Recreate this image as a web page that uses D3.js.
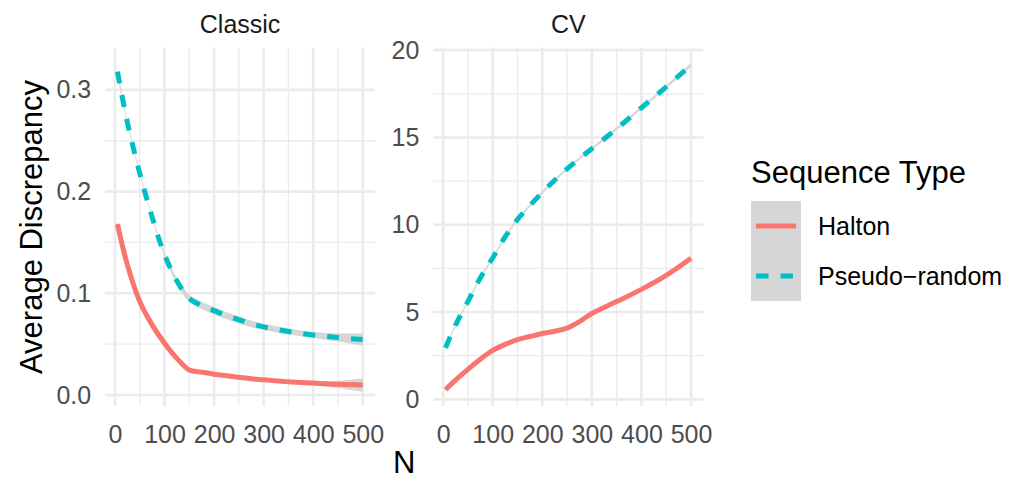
<!DOCTYPE html>
<html>
<head>
<meta charset="utf-8">
<script src="https://cdn.jsdelivr.net/npm/d3@7"></script>
<style>
  html, body { margin: 0; padding: 0; background: #fff; }
  svg { display: block; font-family: "Liberation Sans", Arial, Helvetica, sans-serif; }
</style>
</head>
<body>
<svg id="chart" width="1022" height="480"></svg>
<script>
// ---- data ----
const panels = ["Classic", "CV"];
const seriesNames = ["Halton", "Pseudo\u2212random"];
const N = [5, 25, 50, 75, 100, 125, 150, 175, 200, 225, 250, 275, 300, 350, 400, 450, 500];

const classicHalton   = [0.168, 0.128, 0.092, 0.069, 0.051, 0.036, 0.0245, 0.0225, 0.0205, 0.019, 0.0175, 0.016, 0.015, 0.013, 0.0117, 0.0105, 0.0098];
const classicHaltonSE = [0.003, 0.002, 0.0015, 0.0012, 0.0012, 0.0012, 0.0012, 0.0012, 0.0012, 0.0012, 0.0012, 0.0012, 0.0012, 0.0015, 0.002, 0.0035, 0.0066];
const classicPseudo   = [0.318, 0.268, 0.218, 0.175, 0.138, 0.112, 0.095, 0.088, 0.083, 0.078, 0.074, 0.070, 0.067, 0.0625, 0.059, 0.0565, 0.0545];
const classicPseudoSE = [0.004, 0.002, 0.0015, 0.0015, 0.002, 0.003, 0.0035, 0.0035, 0.0035, 0.0035, 0.0035, 0.0033, 0.003, 0.003, 0.003, 0.004, 0.0063];

const cvHalton   = [0.55, 1.1, 1.72, 2.3, 2.8, 3.15, 3.42, 3.6, 3.77, 3.9, 4.08, 4.45, 4.92, 5.6, 6.3, 7.1, 8.08];
const cvHaltonSE = [0.08, 0.05, 0.05, 0.05, 0.05, 0.05, 0.05, 0.05, 0.05, 0.05, 0.05, 0.05, 0.05, 0.05, 0.05, 0.06, 0.08];
const cvPseudo   = [2.95, 4.25, 5.6, 6.95, 8.1, 9.3, 10.3, 11.1, 11.85, 12.55, 13.2, 13.8, 14.35, 15.5, 16.7, 17.9, 19.15];
const cvPseudoSE = [0.12, 0.08, 0.08, 0.08, 0.08, 0.08, 0.08, 0.08, 0.08, 0.08, 0.08, 0.08, 0.08, 0.08, 0.08, 0.09, 0.12];

const xTicks = [0, 100, 200, 300, 400, 500];
const xMinor = [50, 150, 250, 350, 450];
const classicYTicks = [0, 0.1, 0.2, 0.3];
const classicYMinor = [0.05, 0.15, 0.25];
const cvYTicks = [0, 5, 10, 15, 20];
const cvYMinor = [2.5, 7.5, 12.5, 17.5];

const xTitle = "N";
const yTitle = "Average Discrepancy";
const legendTitle = "Sequence Type";

// ---- layout ----
const colors = ["#F8766D", "#00BFC4"];
const ribbonFill = "#D6D6D6";
const panelTop = 47.7, panelBottom = 406;
const panelDefs = [
  { name: panels[0], x0: 105.2, x1: 375.0, yDomain: [-0.0108, 0.3415], yTicks: classicYTicks, yMinor: classicYMinor, fmt: d3.format(".1f"),
    series: [{ v: classicHalton, se: classicHaltonSE }, { v: classicPseudo, se: classicPseudoSE }] },
  { name: panels[1], x0: 433.3, x1: 703.3, yDomain: [-0.38, 20.14], yTicks: cvYTicks, yMinor: cvYMinor, fmt: d3.format("d"),
    series: [{ v: cvHalton, se: cvHaltonSE }, { v: cvPseudo, se: cvPseudoSE }] }
];

const svg = d3.select("#chart");
const xDomain = [-19.75, 524.75];
const curve = d3.curveCatmullRom.alpha(0.5);

panelDefs.forEach(p => {
  const x = d3.scaleLinear().domain(xDomain).range([p.x0, p.x1]);
  const y = d3.scaleLinear().domain(p.yDomain).range([panelBottom, panelTop]);
  const g = svg.append("g");

  // minor grid
  g.selectAll(".vminor").data(xMinor).join("line")
    .attr("x1", d => x(d)).attr("x2", d => x(d)).attr("y1", panelTop).attr("y2", panelBottom)
    .attr("stroke", "#EBEBEB").attr("stroke-width", 1.3);
  g.selectAll(".hminor").data(p.yMinor).join("line")
    .attr("y1", d => y(d)).attr("y2", d => y(d)).attr("x1", p.x0).attr("x2", p.x1)
    .attr("stroke", "#EBEBEB").attr("stroke-width", 1.3);
  // major grid
  g.selectAll(".vmajor").data(xTicks).join("line")
    .attr("x1", d => x(d)).attr("x2", d => x(d)).attr("y1", panelTop).attr("y2", panelBottom)
    .attr("stroke", "#EBEBEB").attr("stroke-width", 2.6);
  g.selectAll(".hmajor").data(p.yTicks).join("line")
    .attr("y1", d => y(d)).attr("y2", d => y(d)).attr("x1", p.x0).attr("x2", p.x1)
    .attr("stroke", "#EBEBEB").attr("stroke-width", 2.6);

  // series
  p.series.forEach((s, i) => {
    const pts = N.map((n, k) => ({ n, v: s.v[k], se: s.se[k] }));
    const area = d3.area().x(d => x(d.n)).y0(d => y(d.v - d.se)).y1(d => y(d.v + d.se)).curve(curve);
    const line = d3.line().x(d => x(d.n)).y(d => y(d.v)).curve(curve);
    g.append("path").datum(pts).attr("d", area).attr("fill", ribbonFill);
    g.append("path").datum(pts).attr("d", line).attr("fill", "none")
      .attr("stroke", colors[i]).attr("stroke-width", 5)
      .attr("stroke-dasharray", i === 1 ? "12,12" : null);
  });

  // axes (labels only)
  const ax = g.append("g").attr("transform", `translate(0,${panelBottom})`)
    .call(d3.axisBottom(x).tickValues(xTicks).tickSize(0).tickPadding(19));
  ax.select(".domain").remove();
  ax.selectAll("text").attr("font-size", 25).attr("fill", "#4D4D4D").attr("font-family", null);

  const ay = g.append("g").attr("transform", `translate(${p.x0},0)`)
    .call(d3.axisLeft(y).tickValues(p.yTicks).tickFormat(p.fmt).tickSize(0).tickPadding(14));
  ay.select(".domain").remove();
  ay.selectAll("text").attr("font-size", 25).attr("fill", "#4D4D4D").attr("font-family", null);

  // strip
  g.append("text").attr("x", (p.x0 + p.x1) / 2).attr("y", 32.5).attr("text-anchor", "middle")
    .attr("font-size", 25).attr("fill", "#1A1A1A").text(p.name);
});

// axis titles
svg.append("text").attr("x", (105.2 + 703.3) / 2).attr("y", 473).attr("text-anchor", "middle")
  .attr("font-size", 31).attr("fill", "#000").text(xTitle);
svg.append("text").attr("transform", "translate(41.5,227) rotate(-90)").attr("text-anchor", "middle")
  .attr("font-size", 31).attr("fill", "#000").text(yTitle);

// legend
const lg = svg.append("g");
lg.append("text").attr("x", 751).attr("y", 182.5).attr("font-size", 31).attr("fill", "#000").text(legendTitle);
seriesNames.forEach((name, i) => {
  const cy = 226 + i * 50;
  lg.append("rect").attr("x", 751).attr("y", cy - 25).attr("width", 50).attr("height", 50).attr("fill", ribbonFill);
  lg.append("line").attr("x1", 756).attr("x2", 796).attr("y1", cy).attr("y2", cy)
    .attr("stroke", colors[i]).attr("stroke-width", 5).attr("stroke-dasharray", i === 1 ? "12.5,12" : null);
  lg.append("text").attr("x", 818).attr("y", cy + 9).attr("font-size", 25).attr("fill", "#000").text(name);
});
</script>
</body>
</html>
